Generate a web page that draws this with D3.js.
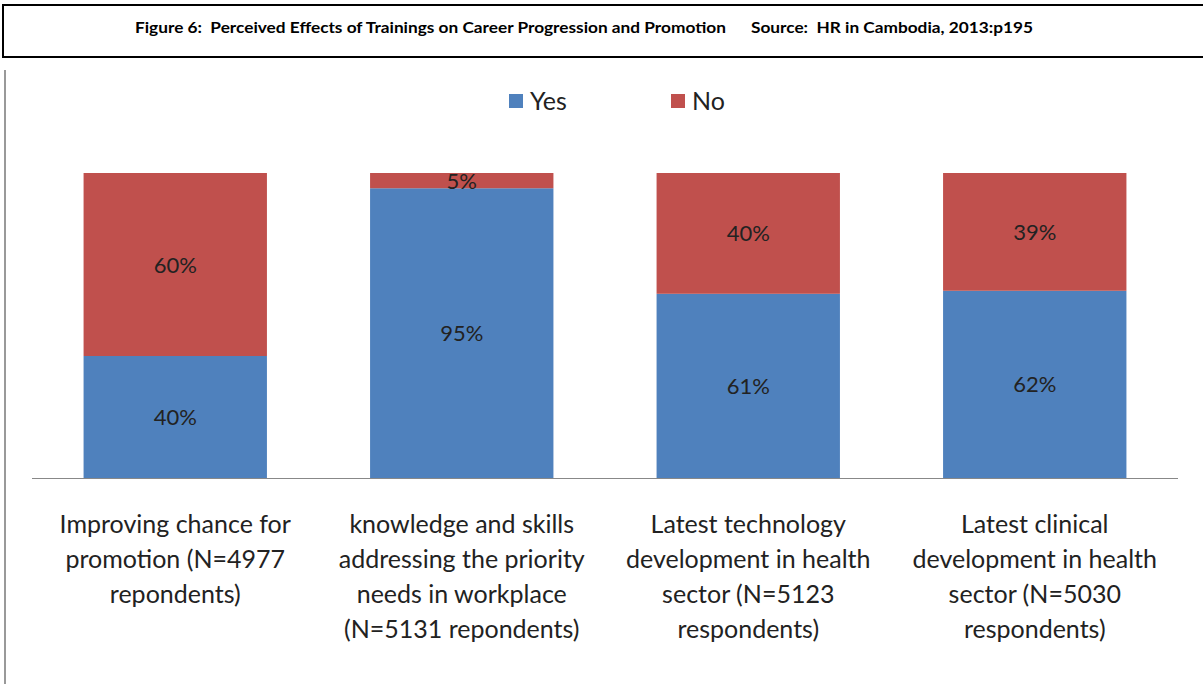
<!DOCTYPE html>
<html>
<head>
<meta charset="utf-8">
<script src="https://cdn.jsdelivr.net/npm/d3@7"></script>
<style>
  body { margin: 0; background: #fff; }
  svg { display: block; }
</style>
</head>
<body>
<svg id="chart" width="1203" height="684"></svg>
<script>
// chart data
const categories = [
  ["Improving chance for", "promotion (N=4977", "repondents)"],
  ["knowledge and skills", "addressing the priority", "needs in workplace", "(N=5131 repondents)"],
  ["Latest technology", "development in health", "sector (N=5123", "respondents)"],
  ["Latest clinical", "development in health", "sector (N=5030", "respondents)"]
]
const yesValues = [40, 95, 61, 62]
const noValues = [60, 5, 40, 39]
const seriesNames = ["Yes", "No"]
const title = "Figure 6:  Perceived Effects of Trainings on Career Progression and Promotion      Source:  HR in Cambodia, 2013:p195"

const svg = d3.select("#chart")
const font = "Lato, 'Open Sans', sans-serif"

// header box
svg.append("rect")
  .attr("x", 3).attr("y", 5)
  .attr("width", 1210).attr("height", 52)
  .attr("fill", "none")
  .attr("stroke", "#000")
  .attr("stroke-width", 2)

svg.append("text")
  .attr("x", 135).attr("y", 33)
  .attr("textLength", 898)
  .attr("lengthAdjust", "spacingAndGlyphs")
  .style("font-family", font)
  .style("font-weight", "bold")
  .style("font-size", "15px")
  .attr("xml:space", "preserve")
  .text(title)

// left page rule
svg.append("line")
  .attr("x1", 5).attr("x2", 5)
  .attr("y1", 70).attr("y2", 684)
  .attr("stroke", "#999")
  .attr("stroke-width", 2)

// scales
const rows = categories.map((c, i) => ({ idx: i, Yes: yesValues[i], No: noValues[i] }))
const stack = d3.stack().keys(seriesNames).offset(d3.stackOffsetExpand)
const layers = stack(rows)

const x = d3.scaleBand()
  .domain(d3.range(categories.length))
  .range([32, 1178])
  .paddingInner(0.36)
  .paddingOuter(0.18)

const y = d3.scaleLinear().domain([0, 1]).range([478, 173])

const color = d3.scaleOrdinal()
  .domain(seriesNames)
  .range(["#4F81BD", "#C0504D"])

// bars
const g = svg.append("g")
g.selectAll("g.layer")
  .data(layers)
  .enter()
  .append("g")
  .attr("class", "layer")
  .attr("fill", d => color(d.key))
  .selectAll("rect")
  .data(d => d)
  .enter()
  .append("rect")
  .attr("x", d => x(d.data.idx))
  .attr("width", x.bandwidth())
  .attr("y", d => y(d[1]))
  .attr("height", d => y(d[0]) - y(d[1]))

// value labels
layers.forEach(layer => {
  g.selectAll(null)
    .data(layer)
    .enter()
    .append("text")
    .attr("x", d => x(d.data.idx) + x.bandwidth() / 2)
    .attr("y", d => (y(d[0]) + y(d[1])) / 2 + 8)
    .attr("text-anchor", "middle")
    .style("font-family", font)
    .style("font-size", "22px")
    .attr("fill", "#222")
    .text(d => d.data[layer.key] + "%")
})

// baseline
svg.append("line")
  .attr("x1", 32).attr("x2", 1178)
  .attr("y1", 478.5).attr("y2", 478.5)
  .attr("stroke", "#888")
  .attr("stroke-width", 1)

// category labels
const lab = svg.append("g")
categories.forEach((lines, i) => {
  const t = lab.append("text")
    .attr("text-anchor", "middle")
    .style("font-family", font)
    .style("font-size", "25px")
    .attr("fill", "#222")
  lines.forEach((ln, j) => {
    t.append("tspan")
      .attr("x", x(i) + x.bandwidth() / 2)
      .attr("y", 533 + j * 35)
      .text(ln)
  })
})

// legend
const legend = svg.append("g")
const legX = [509, 671]
seriesNames.forEach((s, i) => {
  legend.append("rect")
    .attr("x", legX[i]).attr("y", 94)
    .attr("width", 14).attr("height", 14)
    .attr("fill", color(s))
  legend.append("text")
    .attr("x", legX[i] + 21).attr("y", 110)
    .style("font-family", font)
    .style("font-size", "25px")
    .attr("fill", "#222")
    .text(s)
})
</script>
</body>
</html>
